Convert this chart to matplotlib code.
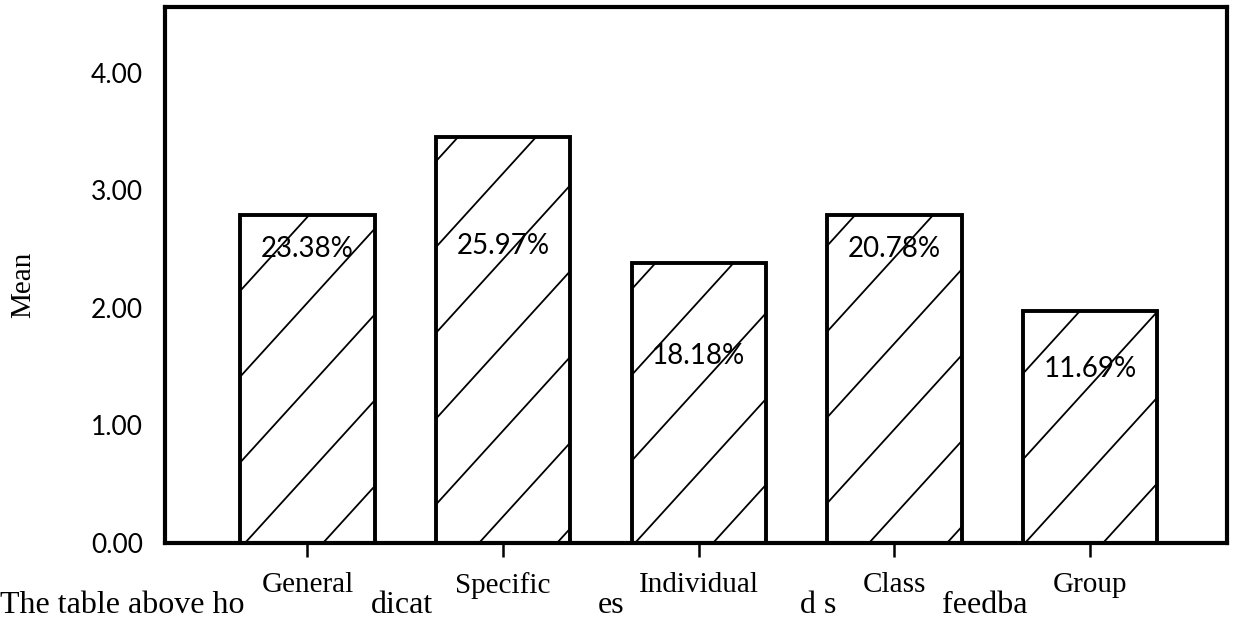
import matplotlib
matplotlib.use("Agg")
import matplotlib.pyplot as plt
from matplotlib.collections import LineCollection
import numpy as np

categories = ["General", "Specific", "Individual", "Class", "Group"]
means = [2.79, 3.45, 2.38, 2.79, 1.97]
percents = ["23.38%", "25.97%", "18.18%", "20.78%", "11.69%"]
percent_y = [2.50, 2.53, 1.59, 2.50, 1.48]
y_ticks = [0, 1, 2, 3, 4]

# fragments of the paragraph under the chart (partly covered in the source page)
para_bits = ["The table above ho", "dicat", "es", "d s", "feedba"]
para_x = [0, 371, 598, 800, 942]

W, H = 1233, 618
fig = plt.figure(figsize=(W / 100, H / 100), dpi=100)
ax = fig.add_axes([165 / W, 1 - 543 / H, (1227 - 165) / W, (543 - 7) / H])

x = np.arange(len(categories))
bars = ax.bar(x, means, 0.687, color="white", edgecolor="black", linewidth=2.8, zorder=2)

# sparse diagonal hatching, clipped to each bar
aw, ah = 1227 - 165, 543 - 7
offsets = np.arange(-700, 1200, 78)
segs = [[(o / aw, 0), ((o + ah / 1.1) / aw, 1)] for o in offsets]
for b in bars:
    lc = LineCollection(segs, colors="black", linewidths=1.3, transform=ax.transAxes, zorder=3)
    ax.add_collection(lc)
    lc.set_clip_path(b.get_path(), b.get_transform())

for xi, p, py in zip(x, percents, percent_y):
    ax.text(xi, py, p, ha="center", va="center", fontsize=20, family="Lato", zorder=4)

ax.set_xlim(-0.728, 4.70)
ax.set_ylim(0, 4.56)
ax.set_yticks(y_ticks)
ax.set_yticklabels(["%.2f" % v for v in y_ticks], family="Lato", fontsize=19)
ax.tick_params(axis="y", length=0, pad=16)
ax.set_xticks(x)
ax.set_xticklabels(categories, family="Liberation Serif", fontsize=21)
ax.tick_params(axis="x", length=10, width=1.8, pad=11)

for s in ax.spines.values():
    s.set_linewidth(3.0)

ax.set_ylabel("Mean", family="Liberation Serif", fontsize=21)
ax.yaxis.set_label_coords(-0.121, 0.482)

for t, px in zip(para_bits, para_x):
    fig.text(px / W, 1 - 613 / H, t, family="Liberation Serif", fontsize=23, ha="left", va="baseline")

fig.savefig("out.png", dpi=100)
